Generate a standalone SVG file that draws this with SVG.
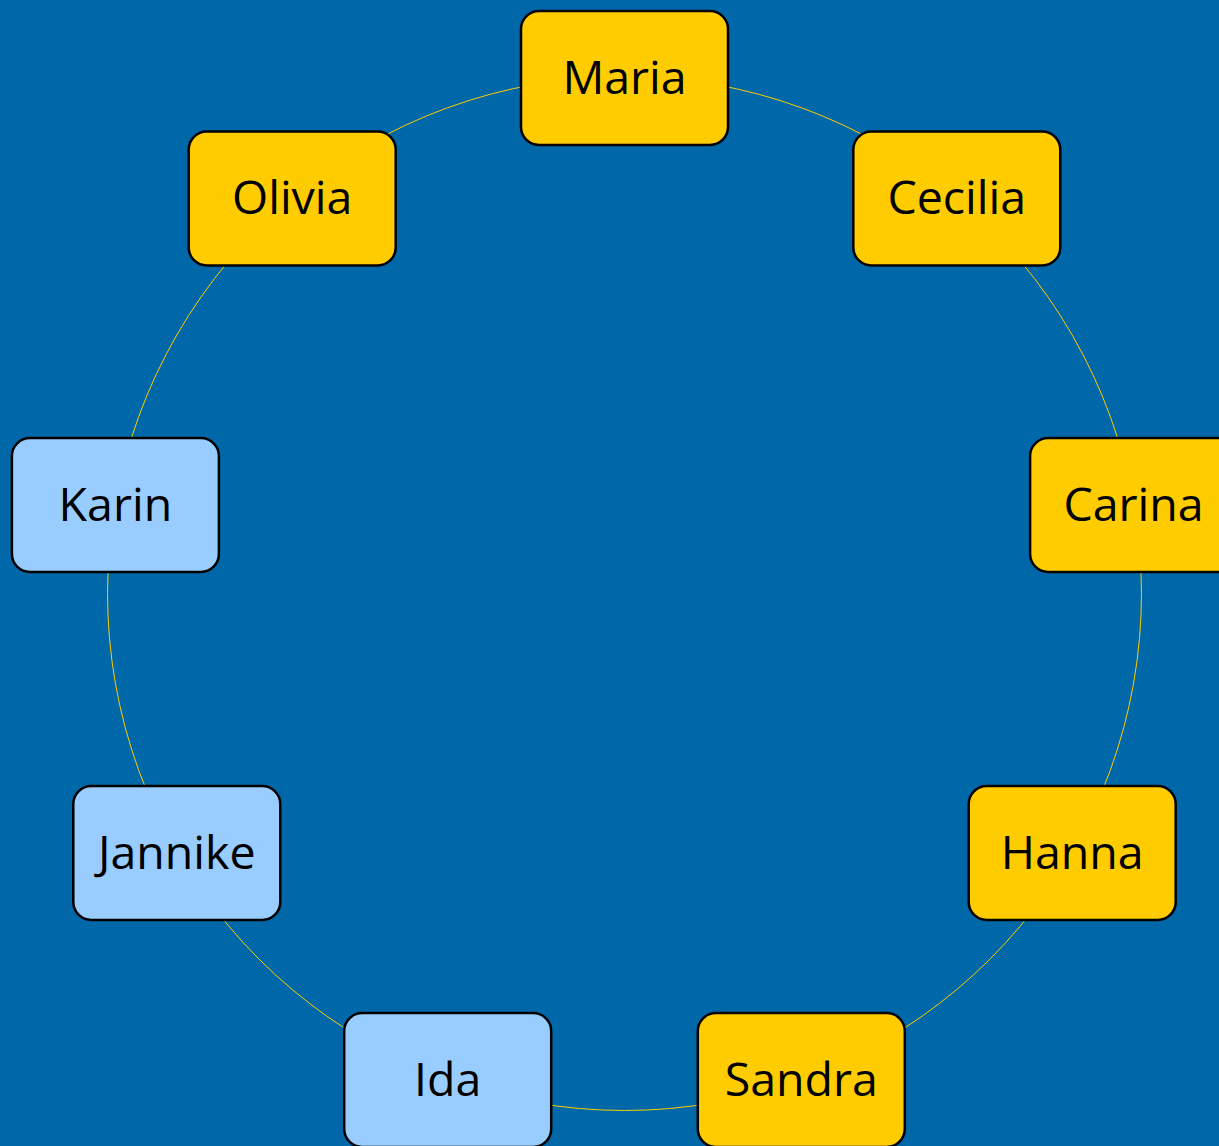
<svg xmlns="http://www.w3.org/2000/svg" width="1219" height="1146" viewBox="0 0 1219 1146">
<style>
.bg{fill:#0068A8}
.conn{fill:none;stroke:#FFCC00;stroke-width:1}
.box{stroke:#000;stroke-width:2.5}
.gold{fill:#FFCC00}
.blue{fill:#99CCFF}
.lbl{font-family:"Open Sans","Liberation Sans",sans-serif;font-size:46.5px;fill:#000;text-anchor:middle;dominant-baseline:central}
</style>
<rect class="bg" x="0" y="0" width="1219" height="1146"/>
<g id="connectors">
<path class="conn" d="M624.5 76.5 A517 517 0 0 1 956.8 197.5"/>
<path class="conn" d="M956.8 197.5 A517 517 0 0 1 1133.6 503.7"/>
<path class="conn" d="M1133.6 503.7 A517 517 0 0 1 1072.2 852"/>
<path class="conn" d="M1072.2 852 A517 517 0 0 1 801.3 1079.3"/>
<path class="conn" d="M801.3 1079.3 A517 517 0 0 1 447.7 1079.3"/>
<path class="conn" d="M447.7 1079.3 A517 517 0 0 1 176.8 852"/>
<path class="conn" d="M176.8 852 A517 517 0 0 1 115.4 503.7"/>
<path class="conn" d="M115.4 503.7 A517 517 0 0 1 292.2 197.5"/>
<path class="conn" d="M292.2 197.5 A517 517 0 0 1 624.5 76.5"/>
</g>
<g id="maria"><rect class="box gold" x="521" y="11" width="207" height="134" rx="18"/><text class="lbl" x="624.5" y="75.5">Maria</text></g>
<g id="cecilia"><rect class="box gold" x="853.3" y="131.5" width="207" height="134" rx="18"/><text class="lbl" x="956.8" y="196">Cecilia</text></g>
<g id="carina"><rect class="box gold" x="1030.1" y="438" width="207" height="134" rx="18"/><text class="lbl" x="1133.6" y="502.5">Carina</text></g>
<g id="hanna"><rect class="box gold" x="968.7" y="786" width="207" height="134" rx="18"/><text class="lbl" x="1072.2" y="850.5">Hanna</text></g>
<g id="sandra"><rect class="box gold" x="697.8" y="1013" width="207" height="134" rx="18"/><text class="lbl" x="801.3" y="1077.5">Sandra</text></g>
<g id="ida"><rect class="box blue" x="344.2" y="1013" width="207" height="134" rx="18"/><text class="lbl" x="447.7" y="1077.5">Ida</text></g>
<g id="jannike"><rect class="box blue" x="73.3" y="786" width="207" height="134" rx="18"/><text class="lbl" x="176.8" y="850.5">Jannike</text></g>
<g id="karin"><rect class="box blue" x="11.9" y="438" width="207" height="134" rx="18"/><text class="lbl" x="115.4" y="502.5">Karin</text></g>
<g id="olivia"><rect class="box gold" x="188.7" y="131.5" width="207" height="134" rx="18"/><text class="lbl" x="292.2" y="196">Olivia</text></g>
</svg>
